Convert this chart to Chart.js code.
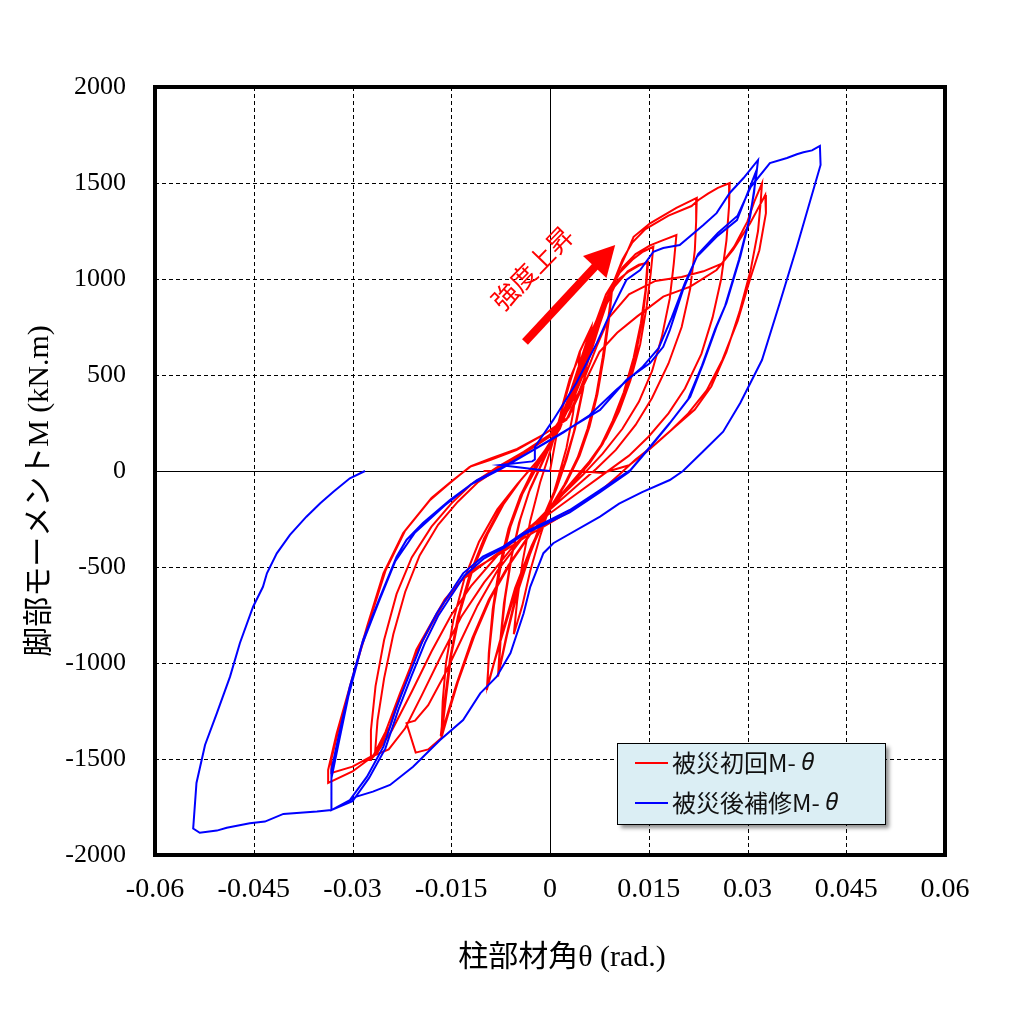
<!DOCTYPE html>
<html><head><meta charset="utf-8">
<script src="https://cdn.jsdelivr.net/npm/chart.js@4/dist/chart.umd.min.js"></script>
<style>html,body{margin:0;padding:0;background:#fff}</style>
</head><body>
<canvas id="c" width="1009" height="1013"></canvas>
<script>
// ---- axis ticks ----
const xTickValues = [-0.06,-0.045,-0.03,-0.015,0,0.015,0.03,0.045,0.06];
const xTickLabels = ['-0.06','-0.045','-0.03','-0.015','0','0.015','0.03','0.045','0.06'];
const yTickValues = [-2000,-1500,-1000,-500,0,500,1000,1500,2000];
const yTickLabels = ['-2000','-1500','-1000','-500','0','500','1000','1500','2000'];

// ---- titles and series labels ----
const xTitle = '柱部材角θ (rad.)';
const yTitle = '脚部モーメントM (kN.m)';
const seriesLabels = ['被災初回M- θ','被災後補修M- θ'];

// ---- 被災初回 (θ rad, M kN.m) ----
const redPath = [
[0,0],
[0.0008,150],[0.0018,330],[0.003,480],[0.0045,600],
[0.0042,480],[0.0035,300],[0.0025,120],[0.0012,-40],[0,-180],[-0.0015,-340],[-0.003,-520],[-0.0042,-700],[-0.0055,-850],
[-0.005,-680],[-0.0042,-480],[-0.003,-260],[-0.0015,-60],[0,100],[0.0015,280],[0.003,460],[0.0045,620],[0.0063,752],
[0.0058,600],[0.005,420],[0.0038,220],[0.0025,60],[0.001,-90],[-0.001,-250],[-0.003,-430],[-0.005,-640],[-0.0065,-850],[-0.0079,-1071],
[-0.0076,-900],[-0.007,-690],[-0.006,-470],[-0.0047,-270],[-0.0032,-110],[-0.0012,40],[0.0008,190],[0.0028,380],[0.0045,560],[0.0062,740],
[0.0057,590],[0.0048,400],[0.0036,200],[0.0022,40],[0.0006,-110],[-0.0014,-270],[-0.0034,-460],[-0.0054,-680],[-0.0067,-870],[-0.0078,-1050],
[-0.0075,-880],[-0.0068,-660],[-0.0058,-440],[-0.0045,-250],[-0.003,-90],[-0.001,60],[0.001,210],[0.003,400],[0.005,600],[0.0065,720],[0.008,840],[0.0094,934],
[0.009,800],[0.0082,600],[0.0072,400],[0.006,230],[0.0045,80],[0.0025,-60],[0,-200],[-0.0025,-380],[-0.005,-600],[-0.0072,-850],[-0.0085,-1000],[-0.0096,-1141],
[-0.0092,-930],[-0.0085,-700],[-0.0074,-480],[-0.006,-290],[-0.0042,-120],[-0.002,20],[0.0005,170],[0.0025,330],[0.0045,530],[0.0065,720],[0.008,830],[0.0093,915],
[0.0088,780],[0.008,590],[0.007,390],[0.0057,220],[0.0042,70],[0.0022,-70],[-0.0003,-210],[-0.0028,-390],[-0.0053,-610],[-0.0074,-860],[-0.0086,-1010],[-0.0095,-1120],
[-0.0093,-950],[-0.0087,-720],[-0.0077,-500],[-0.0063,-300],[-0.0045,-130],[-0.0025,10],[0,150],[0.002,300],[0.004,500],[0.006,700],[0.008,860],[0.0095,950],[0.0105,1000],[0.012,1040],[0.0135,1070],[0.0149,1090],
[0.0146,950],[0.014,780],[0.013,600],[0.0115,420],[0.0098,270],[0.008,140],[0.006,40],[0.003,-80],[0,-200],[-0.003,-330],[-0.006,-480],[-0.009,-660],[-0.0115,-860],[-0.014,-1100],[-0.0155,-1270],[-0.0165,-1391],
[-0.0158,-1180],[-0.015,-960],[-0.0137,-740],[-0.0118,-520],[-0.0095,-330],[-0.007,-170],[-0.0045,-50],[-0.0015,70],[0.0015,220],[0.0035,400],[0.0058,620],[0.0078,820],[0.0098,960],[0.0118,1040],[0.0135,1075],[0.0148,1085],
[0.0145,940],[0.0138,770],[0.0127,590],[0.0112,410],[0.0095,260],[0.0077,130],[0.0057,30],[0.0027,-90],[-0.0003,-210],[-0.0033,-340],[-0.0063,-490],[-0.0093,-670],[-0.0118,-870],[-0.0142,-1110],[-0.0157,-1280],[-0.0166,-1380],
[-0.016,-1200],[-0.0152,-980],[-0.014,-760],[-0.0122,-540],[-0.01,-350],[-0.0075,-190],[-0.005,-70],[-0.002,50],[0.001,190],[0.003,360],[0.005,560],[0.0068,760],[0.0085,920],[0.0105,1030],[0.0125,1100],[0.014,1140],[0.0157,1168],
[0.0153,1030],[0.0147,860],[0.0137,660],[0.0122,470],[0.0105,310],[0.0085,170],[0.006,50],[0.003,-70],[0,-190],[-0.004,-340],[-0.008,-520],[-0.011,-700],[-0.0135,-880],[-0.016,-1060],[-0.0185,-1220],[-0.0205,-1300],[-0.0218,-1313],[-0.0204,-1467],[-0.0185,-1450],[-0.0165,-1391],
[-0.0163,-1200],[-0.0158,-1000],[-0.0147,-780],[-0.013,-560],[-0.0108,-370],[-0.008,-200],[-0.005,-70],[-0.002,50],[0.0005,160],[0.003,340],[0.005,560],[0.007,780],[0.009,930],[0.011,1060],[0.013,1130],[0.0152,1175],[0.017,1200],[0.0192,1229],
[0.0188,1080],[0.0182,900],[0.017,700],[0.0155,520],[0.0135,360],[0.011,220],[0.008,90],[0.005,-20],[0.002,-120],[-0.002,-260],[-0.006,-410],[-0.01,-580],[-0.0135,-760],[-0.0165,-960],[-0.0195,-1170],[-0.022,-1340],[-0.0245,-1450],[-0.0266,-1480],
[-0.0262,-1300],[-0.0252,-1080],[-0.0238,-850],[-0.022,-630],[-0.0198,-440],[-0.017,-280],[-0.014,-160],[-0.011,-60],[-0.0075,20],[-0.004,90],[0,180],[0.003,330],[0.0055,540],[0.0075,760],[0.0092,930],[0.0105,1050],[0.0117,1140],[0.0127,1220],[0.0152,1290],[0.0192,1370],[0.0223,1422],
[0.0222,1300],[0.022,1150],[0.0213,950],[0.02,750],[0.018,560],[0.0155,380],[0.013,240],[0.01,110],[0.007,10],[0.004,-80],[0,-200],[-0.004,-320],[-0.008,-440],[-0.012,-600],[-0.015,-750],[-0.018,-940],[-0.021,-1150],[-0.024,-1350],[-0.0263,-1470],[-0.0273,-1505],
[-0.0272,-1350],[-0.0265,-1120],[-0.0252,-880],[-0.0233,-640],[-0.021,-450],[-0.018,-290],[-0.015,-170],[-0.012,-70],[-0.008,20],[-0.004,100],[0,190],[0.003,340],[0.0055,560],[0.0078,800],[0.0095,970],[0.011,1100],[0.0125,1190],[0.0145,1260],[0.018,1330],[0.0215,1380],[0.0225,1410],[0.024,1445],[0.0255,1475],[0.0273,1500],
[0.0272,1380],[0.0268,1200],[0.026,1000],[0.0247,800],[0.023,610],[0.0205,430],[0.018,300],[0.015,180],[0.012,80],[0.008,-20],[0.004,-120],[0,-220],[-0.004,-320],[-0.008,-430],[-0.0115,-520],[-0.0135,-570],[-0.016,-670],[-0.018,-790],[-0.0203,-930],[-0.0223,-1130],[-0.0243,-1330],[-0.0263,-1470],[-0.03,-1565],[-0.0337,-1625],
[-0.0337,-1557],[-0.0324,-1366],[-0.0304,-1123],[-0.0278,-811],[-0.0253,-533],[-0.0223,-323],[-0.0182,-151],[-0.0152,-63],[-0.0122,22],[-0.0091,57],[-0.0051,109],[-0.0015,179],[0.0025,266],[0.0045,420],[0.0071,650],[0.009,800],[0.012,920],[0.016,990],[0.02,1010],[0.0233,1040],[0.0261,1080],[0.028,1170],[0.03,1300],[0.031,1400],[0.0322,1498],
[0.032,1400],[0.0316,1250],[0.0305,1050],[0.0288,830],[0.0268,620],[0.0245,440],[0.022,320],[0.019,230],[0.016,140],[0.013,60],[0.0105,-20],[0.0078,-100],[0.004,-190],[0,-270],[-0.004,-350],[-0.008,-440],[-0.0115,-510],[-0.0135,-570],[-0.016,-680],[-0.018,-800],[-0.0205,-960],[-0.0228,-1160],[-0.025,-1360],[-0.0268,-1480],[-0.03,-1540],[-0.0332,-1573],
[-0.0332,-1500],[-0.032,-1330],[-0.0302,-1100],[-0.0275,-790],[-0.025,-520],[-0.022,-310],[-0.018,-140],[-0.015,-55],[-0.012,25],[-0.009,65],[-0.005,115],[-0.0012,185],[0.0028,280],[0.005,440],[0.0075,620],[0.0102,720],[0.0132,804],[0.0172,908],[0.0213,960],[0.0253,1047],[0.0278,1151],[0.0304,1290],[0.0327,1437],
[0.0328,1343],[0.0318,1150],[0.0304,1000],[0.0285,780],[0.0262,580],[0.0238,420],[0.021,300],[0.018,200],[0.015,110],[0.012,30],[0.008,-10],[0.004,0],[-0.004,0],[-0.0101,0]
];

// ---- 被災後補修 (θ rad, M kN.m) ----
const bluePath = [
[0,0],[-0.0008,3],[-0.0076,31],[-0.0027,50],[-0.0023,60],[-0.0023,125],
[0.0005,266],[0.004,458],[0.0071,666],[0.0096,856],[0.0116,995],[0.0137,1047],[0.0157,1142],[0.0172,1161],[0.0197,1177],[0.0233,1281],[0.0253,1343],[0.0273,1448],[0.0294,1526],[0.0316,1620],
[0.0313,1530],[0.0304,1325],[0.0289,1116],[0.0268,875],[0.0253,752],[0.0233,562],[0.0213,387],[0.0182,250],[0.0152,127],[0.0122,5],[0.0076,-99],[0.003,-203],[0,-255],[-0.0041,-323],[-0.0071,-394],[-0.0102,-446],[-0.0132,-533],[-0.0152,-637],[-0.0172,-741],[-0.0193,-880],[-0.0213,-1054],[-0.0233,-1228],[-0.0253,-1436],[-0.0278,-1592],[-0.0304,-1714],[-0.0332,-1766],
[-0.0332,-1557],[-0.0319,-1349],[-0.0304,-1123],[-0.0284,-880],[-0.0258,-655],[-0.0233,-446],[-0.0218,-359],[-0.0193,-271],[-0.0152,-151],[-0.0111,-47],[-0.0071,22],[-0.0026,109],[0.0025,213],[0.0076,318],[0.0116,474],[0.0152,562],[0.0172,647],[0.0182,734],[0.0202,943],[0.0223,1116],[0.0253,1220],[0.0284,1307],[0.0313,1560],
[0.031,1450],[0.0302,1300],[0.0287,1100],[0.0266,860],[0.0251,740],[0.0231,550],[0.021,375],[0.018,240],[0.015,115],[0.012,-5],[0.0076,-110],[0.003,-215],[0,-265],[-0.004,-330],[-0.007,-400],[-0.01,-455],[-0.013,-545],[-0.015,-650],[-0.017,-755],[-0.019,-895],[-0.021,-1065],[-0.023,-1240],[-0.025,-1445],[-0.0275,-1600],[-0.03,-1720],[-0.0332,-1766],
[-0.0332,-1600],[-0.032,-1400],[-0.0306,-1170],[-0.0286,-910],[-0.026,-680],[-0.0235,-470],[-0.0205,-320],[-0.016,-180],[-0.012,-70],[-0.0075,10],[-0.003,100],[0.002,200],[0.006,290],[0.01,420],[0.014,540],[0.0165,640],[0.0185,800],[0.0205,980],[0.0225,1130],[0.0255,1240],[0.0285,1330],[0.0305,1480],[0.0334,1604],[0.036,1630],[0.0375,1650],[0.0385,1660],[0.0398,1670],[0.041,1693],[0.0411,1594],
[0.0375,1168],[0.0349,875],[0.0322,578],[0.0289,354],[0.0263,205],[0.0232,100],[0.0202,0],[0.0182,-47],[0.014,-110],[0.0105,-170],[0.0076,-238],[0.0005,-376],[-0.001,-428],[-0.003,-603],[-0.004,-741],[-0.006,-948],[-0.0081,-1071],[-0.0106,-1158],[-0.0132,-1297],[-0.0167,-1401],[-0.0208,-1540],[-0.0243,-1635],[-0.0269,-1670],[-0.0294,-1696],[-0.0332,-1766],
[-0.0354,-1774],[-0.0405,-1786],[-0.0433,-1826],[-0.0456,-1835],[-0.0491,-1858],[-0.0506,-1873],[-0.0532,-1884],[-0.0542,-1862],[-0.0537,-1625],[-0.0524,-1427],[-0.0506,-1261],[-0.0486,-1071],[-0.0471,-896],[-0.0451,-707],[-0.0436,-603],[-0.043,-533],[-0.0415,-429],[-0.0395,-333],[-0.037,-238],[-0.0349,-168],[-0.0329,-108],[-0.0304,-38],[-0.0281,0]
];

// ---- annotation (data coordinates) ----
const arrowTail = [-0.0038, 672];
const arrowTip = [0.0099, 1177];
const annotationText = '強度上昇';
const annotationPos = [-0.0027, 1057];

const seriesColors = ['#FF0000','#0000FF'];

const toXY = arr => arr.map(p => ({x:p[0], y:p[1]}));

const decorPlugin = {
  id: 'decor',
  beforeDatasetsDraw(chart) {
    const {ctx, chartArea: ca, scales: {x, y}} = chart;
    ctx.save();
    ctx.lineWidth = 1;
    ctx.strokeStyle = '#000';
    xTickValues.forEach((v, i) => {
      if (i === 0 || i === xTickValues.length - 1) return;
      const px = Math.round(x.getPixelForValue(v)) + 0.5;
      ctx.setLineDash(v === 0 ? [] : [4, 3]);
      ctx.beginPath(); ctx.moveTo(px, ca.top); ctx.lineTo(px, ca.bottom); ctx.stroke();
    });
    yTickValues.forEach((v, i) => {
      if (i === 0 || i === yTickValues.length - 1) return;
      const py = Math.round(y.getPixelForValue(v)) + 0.5;
      ctx.setLineDash(v === 0 ? [] : [4, 3]);
      ctx.beginPath(); ctx.moveTo(ca.left, py); ctx.lineTo(ca.right, py); ctx.stroke();
    });
    ctx.restore();
  },
  afterDatasetsDraw(chart) {
    const {ctx, chartArea: ca, scales: {x, y}} = chart;
    ctx.save();
    // frame
    ctx.setLineDash([]);
    ctx.lineWidth = 4;
    ctx.strokeStyle = '#000';
    ctx.strokeRect(ca.left, ca.top, ca.right - ca.left, ca.bottom - ca.top);

    // axis titles
    ctx.fillStyle = '#000';
    ctx.font = '30px "Liberation Serif", "Noto Sans CJK JP", serif';
    ctx.textAlign = 'center';
    ctx.textBaseline = 'middle';
    ctx.fillText(xTitle, (ca.left + ca.right) / 2 + 12, ca.bottom + 103);
    ctx.save();
    ctx.translate(ca.left - 115, (ca.top + ca.bottom) / 2 + 20);
    ctx.rotate(-Math.PI / 2);
    ctx.fillText(yTitle, 0, 0);
    ctx.restore();

    // arrow annotation
    const x0 = x.getPixelForValue(arrowTail[0]), y0 = y.getPixelForValue(arrowTail[1]);
    const x1 = x.getPixelForValue(arrowTip[0]), y1 = y.getPixelForValue(arrowTip[1]);
    const ang = Math.atan2(y1 - y0, x1 - x0);
    const headLen = 30, headW = 16;
    const bx = x1 - headLen * Math.cos(ang), by = y1 - headLen * Math.sin(ang);
    ctx.strokeStyle = '#FF0000';
    ctx.fillStyle = '#FF0000';
    ctx.lineWidth = 8;
    ctx.lineCap = 'butt';
    ctx.beginPath(); ctx.moveTo(x0, y0); ctx.lineTo(bx + 2*Math.cos(ang), by + 2*Math.sin(ang)); ctx.stroke();
    ctx.beginPath();
    ctx.moveTo(x1, y1);
    ctx.lineTo(bx + headW * Math.sin(ang), by - headW * Math.cos(ang));
    ctx.lineTo(bx - headW * Math.sin(ang), by + headW * Math.cos(ang));
    ctx.closePath(); ctx.fill();

    // annotation text
    const tx = x.getPixelForValue(annotationPos[0]), ty = y.getPixelForValue(annotationPos[1]);
    ctx.save();
    ctx.translate(tx, ty);
    ctx.rotate(-46 * Math.PI / 180);
    ctx.font = '26px "Noto Sans CJK JP", "Noto Sans", sans-serif';
    ctx.textAlign = 'center';
    ctx.textBaseline = 'middle';
    ctx.fillText(annotationText, 0, 0);
    ctx.restore();

    // legend box
    const lw = 268, lh = 81;
    const lx = ca.right - 328, ly = ca.bottom - 112;
    ctx.save();
    ctx.shadowColor = 'rgba(0,0,0,0.45)';
    ctx.shadowOffsetX = 4; ctx.shadowOffsetY = 4; ctx.shadowBlur = 4;
    ctx.fillStyle = '#DBEEF4';
    ctx.fillRect(lx, ly, lw, lh);
    ctx.restore();
    ctx.lineWidth = 1;
    ctx.strokeStyle = '#000';
    ctx.strokeRect(lx + 0.5, ly + 0.5, lw, lh);
    chart.data.datasets.forEach((ds, i) => {
      const cy = ly + 20 + i * 40;
      ctx.strokeStyle = ds.borderColor;
      ctx.lineWidth = 2;
      ctx.beginPath(); ctx.moveTo(lx + 18, cy); ctx.lineTo(lx + 51, cy); ctx.stroke();
      const label = ds.label;
      const main = label.slice(0, -1), theta = label.slice(-1);
      ctx.fillStyle = '#111';
      ctx.textAlign = 'left';
      ctx.textBaseline = 'middle';
      ctx.font = '24px "Noto Sans CJK JP", "Noto Sans", sans-serif';
      ctx.fillText(main, lx + 55, cy);
      const w = ctx.measureText(main).width;
      ctx.font = 'italic 24px "Noto Sans", "DejaVu Sans", sans-serif';
      ctx.fillText(theta, lx + 55 + w, cy);
    });
    ctx.restore();
  }
};

new Chart(document.getElementById('c'), {
  type: 'scatter',
  data: {
    datasets: [
      {label: seriesLabels[0], data: toXY(redPath), showLine: true, borderColor: seriesColors[0], backgroundColor: seriesColors[0], borderWidth: 2, pointRadius: 0, tension: 0, order: 1},
      {label: seriesLabels[1], data: toXY(bluePath), showLine: true, borderColor: seriesColors[1], backgroundColor: seriesColors[1], borderWidth: 2, pointRadius: 0, tension: 0, order: 0}
    ]
  },
  options: {
    responsive: false,
    animation: false,
    devicePixelRatio: 1,
    layout: {padding: {top: 87, right: 64, left: 0, bottom: 0}},
    plugins: {legend: {display: false}, tooltip: {enabled: false}},
    scales: {
      x: {
        type: 'linear', min: -0.06, max: 0.06,
        afterBuildTicks: s => { s.ticks = xTickValues.map(v => ({value: v})); },
        afterFit: s => { s.height = 158; },
        ticks: {
          callback: (v, i) => xTickLabels[i],
          font: {family: '"Liberation Serif", "Times New Roman", serif', size: 28},
          color: '#000', padding: 18, maxRotation: 0, autoSkip: false
        },
        grid: {display: false, drawTicks: false},
        border: {display: false},
        title: {display: false}
      },
      y: {
        type: 'linear', min: -2000, max: 2000,
        afterBuildTicks: s => { s.ticks = yTickValues.map(v => ({value: v})); },
        afterFit: s => { s.width = 155; },
        ticks: {
          callback: (v, i) => yTickLabels[i],
          font: {family: '"Liberation Serif", "Times New Roman", serif', size: 26},
          color: '#000', padding: 29, autoSkip: false
        },
        grid: {display: false, drawTicks: false},
        border: {display: false},
        title: {display: false}
      }
    }
  },
  plugins: [decorPlugin]
});
</script>
</body></html>
